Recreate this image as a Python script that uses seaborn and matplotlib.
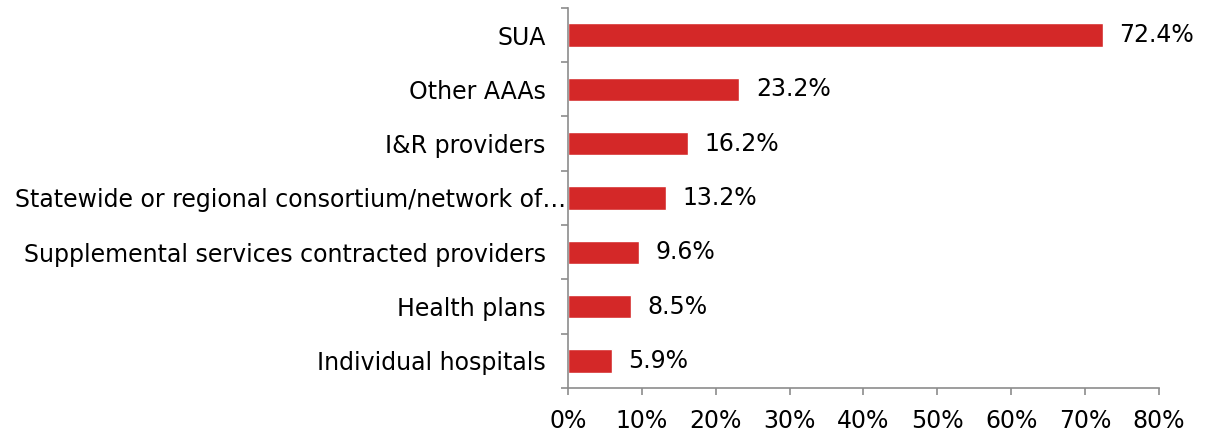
import matplotlib
matplotlib.use("Agg")
import matplotlib.pyplot as plt
import matplotlib.ticker as mticker
import matplotlib.transforms as mtransforms
import seaborn as sns
import pandas as pd
import numpy as np

categories = [
    "SUA",
    "Other AAAs",
    "I&R providers",
    "Statewide or regional consortium/network of\u2026",
    "Supplemental services contracted providers",
    "Health plans",
    "Individual hospitals",
]
values = [72.4, 23.2, 16.2, 13.2, 9.6, 8.5, 5.9]

BAR_COLOR = "#D42828"
SPINE_COLOR = "#8C8C8C"
FS = 17

df = pd.DataFrame({"category": categories, "value": values})

sns.set_style("white")
plt.rcParams["font.family"] = ["DejaVu Sans"]
plt.rcParams["text.color"] = "black"
plt.rcParams["xtick.color"] = "black"
plt.rcParams["ytick.color"] = "black"

fig = plt.figure(figsize=(12.06, 4.36), dpi=100)
ax = fig.add_axes([0.471, 0.110, 0.490, 0.872])

sns.barplot(data=df, y="category", x="value", color=BAR_COLOR, saturation=1,
            width=0.43, orient="h", ax=ax)

for patch, v in zip(ax.patches, values):
    y = patch.get_y() + patch.get_height() / 2
    ax.annotate(f"{v:.1f}%", (patch.get_width(), y), xytext=(12, 0),
                textcoords="offset points", va="center", ha="left",
                fontsize=FS, color="black")

ax.set_xlim(0, 80)
ax.set_ylim(len(categories) - 0.5, -0.5)
ax.xaxis.set_major_locator(mticker.MultipleLocator(10))
ax.xaxis.set_major_formatter(mticker.FuncFormatter(lambda x, _: f"{x:.0f}%"))
ax.set_xlabel("")
ax.set_ylabel("")

# category ticks sit at the boundaries between bars
ax.yaxis.set_minor_locator(mticker.FixedLocator(np.arange(-0.5, len(categories), 1)))
ax.tick_params(axis="y", which="major", left=True, length=0, pad=16,
               labelsize=FS, labelcolor="black")
ax.tick_params(axis="y", which="minor", left=True, length=5, width=1.2,
               color=SPINE_COLOR, direction="out")
ax.tick_params(axis="x", which="major", bottom=True, length=5, width=1.2,
               color=SPINE_COLOR, direction="out", labelsize=FS, pad=10,
               labelcolor="black")

# the truncated label hugs the axis in the original
shift = mtransforms.ScaledTranslation(0.20, 0, fig.dpi_scale_trans)
for lab in ax.get_yticklabels():
    if lab.get_text().endswith("\u2026"):
        lab.set_transform(lab.get_transform() + shift)

for side in ["top", "right"]:
    ax.spines[side].set_visible(False)
for side in ["left", "bottom"]:
    ax.spines[side].set_color(SPINE_COLOR)
    ax.spines[side].set_linewidth(1.2)

fig.savefig("out.png", dpi=100)
